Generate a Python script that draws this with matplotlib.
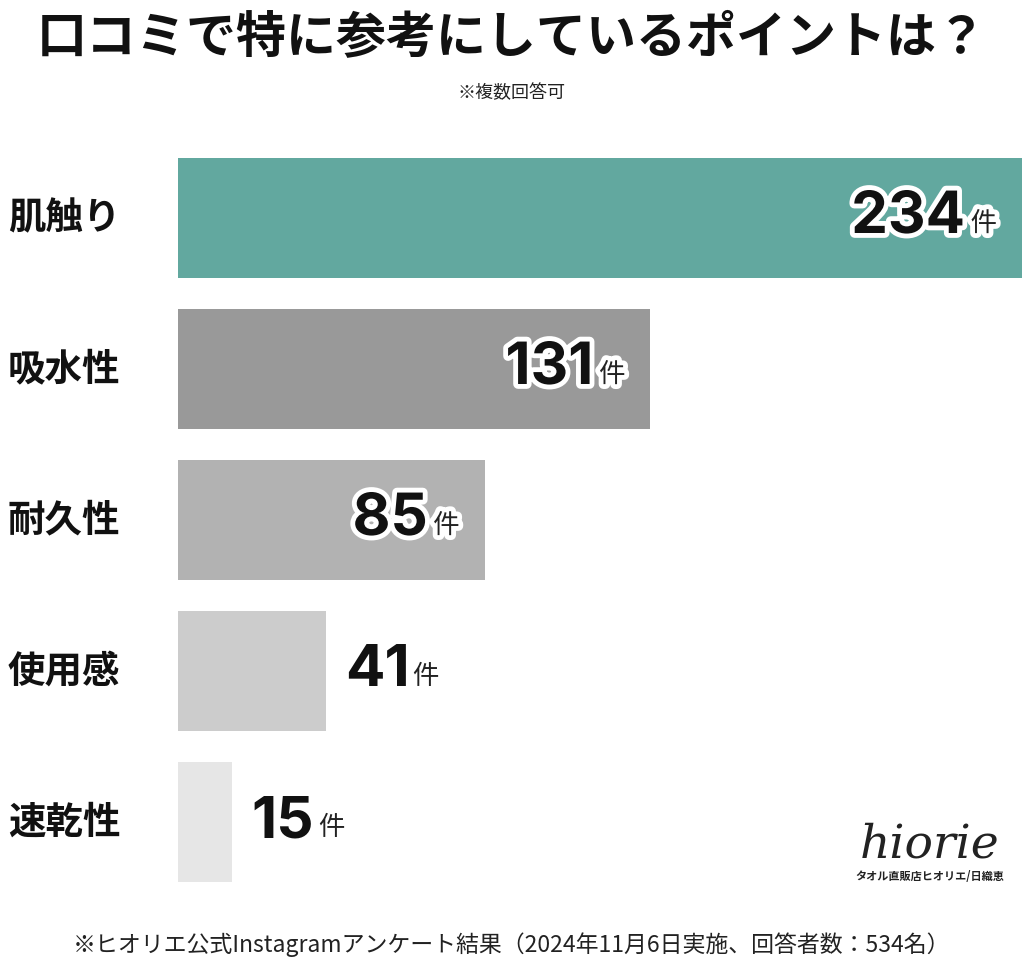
import matplotlib
matplotlib.use("Agg")
import matplotlib.pyplot as plt
import matplotlib.patheffects as pe

categories = ["肌触り", "吸水性", "耐久性", "使用感", "速乾性"]
values = [234, 131, 85, 41, 15]
colors = ["#62a89f", "#999999", "#b2b2b2", "#cccccc", "#e6e6e6"]
inside = [True, True, True, False, False]

JP = "Noto Sans CJK JP"
NUM = "Inter"
W, H = 1024, 967
fig = plt.figure(figsize=(W/100, H/100), dpi=100)
fig.patch.set_facecolor("white")

top_px, bot_px = 158, 882
ax = fig.add_axes([178/W, (H-bot_px)/H, 1-178/W, (bot_px-top_px)/H])
pitch = 151
bar_h = 120/pitch
n = len(values)
ax.set_ylim(n-1+bar_h/2, -bar_h/2)
ax.set_xlim(0, 234*(W-178)/844)
ax.axis("off")
ax.barh(range(n), values, height=bar_h, color=colors)

stroke = [pe.withStroke(linewidth=7, foreground="white")]
for i, (v, ins) in enumerate(zip(values, inside)):
    if ins:
        ax.annotate("件", (v, i), xytext=(-18, -4), textcoords="offset points",
                    ha="right", va="center", fontsize=19, family=JP, color="#222222",
                    path_effects=stroke)
        ax.annotate(str(v), (v, i), xytext=(-41, 0), textcoords="offset points",
                    ha="right", va="center", fontsize=42, family=NUM, weight="bold",
                    color="#111111", path_effects=stroke)
    else:
        ax.annotate(str(v), (v, i), xytext=(14, 0), textcoords="offset points",
                    ha="left", va="center", fontsize=42, family=NUM,
                    weight="bold", color="#111111")
        ax.annotate("件", (v, i), xytext=(14 + 24*len(str(v)), -4), textcoords="offset points",
                    ha="left", va="center", fontsize=19, family=JP, color="#222222")
    fig.text(8/W, 1 - (top_px + 60 + i*pitch)/H, categories[i], ha="left", va="center",
             fontsize=27, family=JP, weight="bold", color="#111111")

fig.text(0.5, 1 - 38/H, "口コミで特に参考にしているポイントは？", ha="center", va="center",
         fontsize=36, family=JP, weight="bold", color="#111111")
fig.text(0.5, 1 - 93/H, "※複数回答可", ha="center", va="center",
         fontsize=13, family=JP, color="#222222")
fig.text(0.5, 1 - 945/H, "※ヒオリエ公式Instagramアンケート結果（2024年11月6日実施、回答者数：534名）",
         ha="center", va="center", fontsize=16.5, family=JP, color="#222222")
fig.text(930/W, 1 - 845/H, "hiorie", ha="center", va="center", fontsize=34,
         family="DejaVu Serif", style="italic", color="#222222")
fig.text(930/W, 1 - 877/H, "タオル直販店ヒオリエ/日織恵", ha="center", va="center",
         fontsize=8, family=JP, weight="bold", color="#222222")

fig.savefig("out.png", dpi=100)
